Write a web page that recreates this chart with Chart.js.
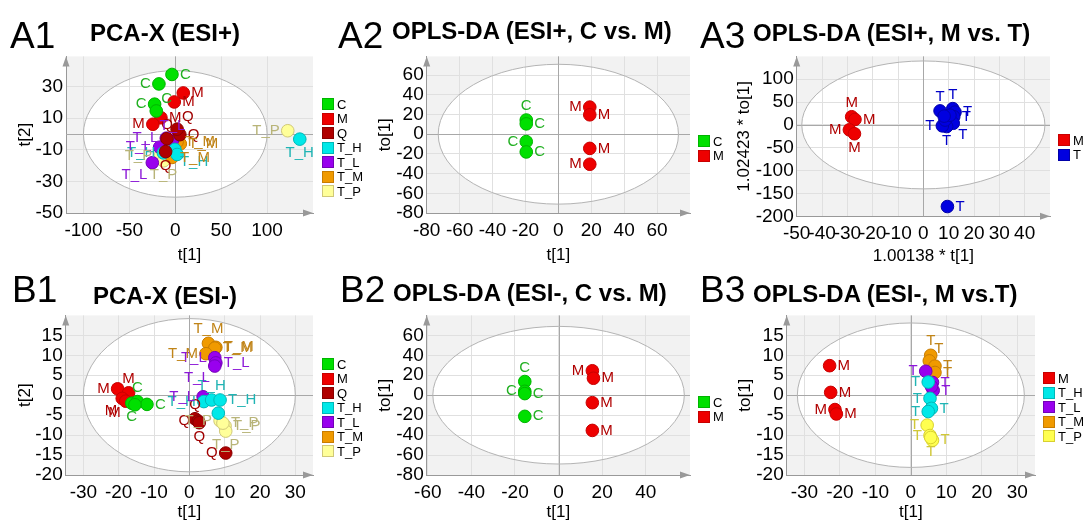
<!DOCTYPE html>
<html>
<head>
<meta charset="utf-8">
<script src="https://cdn.jsdelivr.net/npm/chart.js@4.4.0/dist/chart.umd.min.js"></script>
<style>
  body { margin: 0; width: 1083px; height: 522px; overflow: hidden; background: #fff;
         font-family: "Liberation Sans", Arial, sans-serif; position: relative; }
  canvas { position: absolute; }
  .tag { position: absolute; font-size: 37px; line-height: 1; color: #000; }
  .ttl { position: absolute; font-size: 24px; font-weight: bold; line-height: 1; white-space: nowrap; color: #000; }
  .leg { position: absolute; font-size: 13px; color: #000; }
  .leg div { height: 14.5px; display: flex; align-items: center; white-space: nowrap; }
  .leg i { display: inline-block; width: 10px; height: 10px; border: 1px solid; margin-right: 3px; }
</style>
</head>
<body>
<script>
// ---- A1  PCA-X (ESI+) ----
const a1XTicks = [-100, -50, 0, 50, 100];
const a1YTicks = [-50, -30, -10, 10, 30];
const a1C  = [[-3.6, 37.6], [-17.8, 31.6], [-22.5, 18.8], [-20.7, 14.5]];
const a1M  = [[8.7, 25.9], [-1.1, 20.2], [-15.6, 10.2], [-24.4, 6.1]];
const a1Q  = [[5, -0.5], [2, 3], [-9, -3], [-10.5, -11.2]];
const a1TH = [[135.6, -3.3], [-0.4, -9.8], [-13, -12], [2, -13]];
const a1TL = [[-9.8, -2.7], [-17, -8.4], [-25, -18.2], [-3, -4]];
const a1TM = [[5.5, -6.3], [-3.6, -14.9], [2, -5]];
const a1TP = [[122.5, 2], [-4.7, -5.7], [-16.4, -13.9], [-12.7, -17]];

// ---- A2  OPLS-DA (ESI+, C vs. M) ----
const a2XTicks = [-80, -60, -40, -20, 0, 20, 40, 60];
const a2YTicks = [-80, -60, -40, -20, 0, 20, 40, 60];
const a2C = [[-19.5, 14.4], [-19.5, 10.5], [-19.5, -7.5], [-19.5, -18]];
const a2M = [[19.1, 27.5], [19.1, 19.7], [19.1, -14.4], [19.1, -30.5]];

// ---- A3  OPLS-DA (ESI+, M vs. T) ----
const a3XTicks = [-50, -40, -30, -20, -10, 0, 10, 20, 30, 40];
const a3YTicks = [-200, -150, -100, -50, 0, 50, 100];
const a3M = [[-28.3, 17.9], [-27, 12], [-29.2, -10.7], [-27.2, -19.3]];
const a3T = [[6.6, 30.7], [11.6, 35.7], [12.5, 28], [12, 18], [11.8, 3.6], [9.2, -3.6],
             [7.5, -2], [8.6, 10.7], [10.5, 21.4], [8.2, 19.3], [9.5, -178.6]];

// ---- B1  PCA-X (ESI-) ----
const b1XTicks = [-30, -20, -10, 0, 10, 20, 30];
const b1YTicks = [-20, -15, -10, -5, 0, 5, 10, 15];
const b1C  = [[-16.3, -2], [-14.7, -1.6], [-12, -2.3], [-15.4, -2.4]];
const b1M  = [[-20.3, 1.6], [-17.2, 0.6], [-19, -0.8], [-18, -1.5]];
const b1Q  = [[1.6, -5.9], [2.5, -6.5], [2.8, -6.9], [10.3, -14.5]];
const b1TH = [[4.1, -1.6], [6.3, -1.2], [8.7, -1.2], [8.2, -4.5]];
const b1TL = [[7.2, 9.4], [7.5, 8.1], [7.2, 7.3], [3.9, -0.4]];
const b1TM = [[5.4, 13], [7.5, 12], [7.2, 11.8], [4.7, 10.4]];
const b1TP = [[8.7, -6.4], [10.1, -7.7], [10.3, -9], [9.5, -7]];

// ---- B2  OPLS-DA (ESI-, C vs. M) ----
const b2XTicks = [-60, -40, -20, 0, 20, 40];
const b2YTicks = [-80, -60, -40, -20, 0, 20, 40, 60];
const b2C = [[-15.5, 13.7], [-15.5, 3.9], [-15.5, 1.6], [-15.5, -21.2]];
const b2M = [[15.5, 24.5], [16, 17], [15.5, -7.5], [15.5, -35.3]];

// ---- B3  OPLS-DA (ESI-, M vs.T) ----
const b3XTicks = [-30, -20, -10, 0, 10, 20, 30];
const b3YTicks = [-20, -15, -10, -5, 0, 5, 10, 15];
const b3M  = [[-22.9, 7.4], [-22.6, 0.7], [-21.4, -3.6], [-21, -4.7]];
const b3TH = [[4.9, 3.3], [5.4, -0.8], [5.8, -3.3], [4.9, -4.1]];
const b3TL = [[4.2, 6], [6.1, 3.2], [6.3, 1.2], [5.8, 2.2]];
const b3TM = [[5.6, 10], [5.2, 8.6], [6.8, 7.3], [6.8, 5.7]];
const b3TP = [[4.6, -7.5], [5.4, -10.1], [6.1, -11.3], [5.6, -10.6]];

// where each point's name sits (r/l/t/b, diagonals, '' = hidden)
const a1CPos = ['r', 'l', 'l', 'tr'], a1MPos = ['r', 'r', 'r', 'l'], a1QPos = ['r', 'tr', 't', 'b'];
const a1THPos = ['b', 'br', 'l', ''], a1TLPos = ['l', 'l', 'bl', 't'], a1TMPos = ['r', 'r', 'r'];
const a1TPPos = ['l', '', 'l', 'b'];
const a2CPos = ['t', 'r', 'l', 'r'], a2MPos = ['l', 'r', 'r', 'l'];
const a3MPos = ['t', 'r', 'l', 'b'];
const a3TPos = ['t', 't', 'r', 'r', 'br', 'b', 'l', '', '', '', 'r'];
const b1CPos = ['b', 't', 'r', ''], b1MPos = ['l', 't', 'bl', 'bl'], b1QPos = ['t', 'l', 'b', 'l'];
const b1THPos = ['l', 't', 'r', ''], b1TLPos = ['l', 'r', 'bl', 'l'], b1TMPos = ['t', 'r', 'r', 'l'];
const b1TPPos = ['l', 'r', 'b', 'r'];
const b2CPos = ['t', 'l', 'r', 'r'], b2MPos = ['l', 'r', 'r', 'r'];
const b3MPos = ['r', 'r', 'l', 'r'], b3THPos = ['l', 'l', 'r', 'l'], b3TLPos = ['l', 'r', 'r', ''];
const b3TMPos = ['t', 'tr', 'r', 'r'], b3TPPos = ['l', 'l', 'r', 'b'];

const fill = { C: '#00e000', M: '#ee0000', Q: '#b00000', T_H: '#00e8e8', T_L: '#9900ee',
               T_M: '#f09a00', T_P: '#ffff99', T: '#0000e0', T_P2: '#ffff50' };
const edge = { C: '#00b400', M: '#c80000', Q: '#880000', T_H: '#00b8b8', T_L: '#7400b8',
               T_M: '#c87c00', T_P: '#d0c878', T: '#0000a8', T_P2: '#d8d030' };
const ink  = { C: '#22b022', M: '#b00000', Q: '#a00000', T_H: '#20b4b4', T_L: '#8c18d8',
               T_M: '#c08418', T_P: '#b8b478', T: '#0000c8', T_P2: '#d0c838' };

function s(name, pts, pos, mark, key) {
  return { name, pts, pos, mark: mark || name, key: key || name };
}

const panels = [
  { tag: 'A1', tagAt: [10, 17], title: 'PCA-X (ESI+)', titleAt: [90, 21],
    x0: 0, area: [66, 52, 313, 213], xr: [-119, 150], yr: [-50, 49], xt: a1XTicks, yt: a1YTicks,
    ell: [100, 40], xTitle: 't[1]', yTitle: 't[2]', xTitleY: 255.5, yTitleX: 25.5, leg: [322, 104],
    series: [s('C', a1C, a1CPos), s('M', a1M, a1MPos), s('Q', a1Q, a1QPos), s('T_H', a1TH, a1THPos),
             s('T_L', a1TL, a1TLPos), s('T_M', a1TM, a1TMPos), s('T_P', a1TP, a1TPPos)] },
  { tag: 'A2', tagAt: [338, 17], title: 'OPLS-DA (ESI+, C vs. M)', titleAt: [392, 19],
    x0: 360, area: [426.7, 52, 690, 213], xr: [-80, 80], yr: [-80, 79], xt: a2XTicks, yt: a2YTicks,
    ell: [73, 71], xTitle: 't[1]', yTitle: 'to[1]', xTitleY: 255.5, yTitleX: 385.5, leg: [698, 141],
    series: [s('C', a2C, a2CPos), s('M', a2M, a2MPos)] },
  { tag: 'A3', tagAt: [700, 17], title: 'OPLS-DA (ESI+, M vs. T)', titleAt: [753, 21],
    x0: 720, area: [796.7, 52, 1050, 216.3], xr: [-50, 50], yr: [-200, 150], xt: a3XTicks, yt: a3YTicks,
    ell: [48, 140], xTitle: '1.00138 * t[1]', yTitle: '1.02423 * to[1]', xTitleY: 257, yTitleX: 744.5,
    leg: [1058, 140],
    series: [s('M', a3M, a3MPos), s('T', a3T, a3TPos)] },
  { tag: 'B1', tagAt: [12, 271], title: 'PCA-X (ESI-)', titleAt: [93, 284],
    x0: 0, area: [65.7, 311.7, 313, 475], xr: [-35, 35], yr: [-20, 20], xt: b1XTicks, yt: b1YTicks,
    ell: [30, 19.2], xTitle: 't[1]', yTitle: 't[2]', xTitleY: 512.5, yTitleX: 25.5, leg: [322, 364],
    series: [s('C', b1C, b1CPos), s('M', b1M, b1MPos), s('Q', b1Q, b1QPos), s('T_H', b1TH, b1THPos),
             s('T_L', b1TL, b1TLPos), s('T_M', b1TM, b1TMPos), s('T_P', b1TP, b1TPPos)] },
  { tag: 'B2', tagAt: [340, 271], title: 'OPLS-DA (ESI-, C vs. M)', titleAt: [393, 281],
    x0: 360, area: [426.7, 311.7, 690, 475], xr: [-60.5, 60.3], yr: [-80, 80], xt: b2XTicks, yt: b2YTicks,
    ell: [57.7, 69], xTitle: 't[1]', yTitle: 'to[1]', xTitleY: 512.5, yTitleX: 385.5, leg: [698, 402],
    series: [s('C', b2C, b2CPos), s('M', b2M, b2MPos)] },
  { tag: 'B3', tagAt: [700, 271], title: 'OPLS-DA (ESI-, M vs.T)', titleAt: [753, 282],
    x0: 720, area: [786.7, 311.7, 1035, 475], xr: [-35, 35], yr: [-20, 20], xt: b3XTicks, yt: b3YTicks,
    ell: [32, 18.1], xTitle: 't[1]', yTitle: 'to[1]', xTitleY: 512.5, yTitleX: 745.5, leg: [1043, 378],
    series: [s('M', b3M, b3MPos), s('T_H', b3TH, b3THPos, 'T'), s('T_L', b3TL, b3TLPos, 'T'),
             s('T_M', b3TM, b3TMPos, 'T'), s('T_P', b3TP, b3TPPos, 'T', 'T_P2')] }
];

// ellipse, grey background, zero lines, axis arrows and point names
const scorePlot = {
  id: 'scorePlot',
  beforeDraw(chart, args, o) {
    const { ctx, chartArea: a, scales: { x, y } } = chart;
    const x0 = x.getPixelForValue(0), y0 = y.getPixelForValue(0);
    ctx.save();
    ctx.fillStyle = '#f2f2f2';
    ctx.fillRect(a.left, a.top, a.right - a.left, a.bottom - a.top);
    ctx.beginPath();
    ctx.ellipse(x0, y0, x.getPixelForValue(o.ell[0]) - x0, y0 - y.getPixelForValue(o.ell[1]), 0, 0, 2 * Math.PI);
    ctx.fillStyle = '#fff';
    ctx.fill();
    ctx.restore();
  },
  beforeDatasetsDraw(chart, args, o) {
    const { ctx, chartArea: a, scales: { x, y } } = chart;
    const x0 = x.getPixelForValue(0), y0 = y.getPixelForValue(0);
    ctx.save();
    ctx.strokeStyle = '#a8a8a8';
    ctx.lineWidth = 1;
    ctx.beginPath();
    ctx.moveTo(Math.round(x0) + 0.5, a.top); ctx.lineTo(Math.round(x0) + 0.5, a.bottom);
    ctx.moveTo(a.left, Math.round(y0) + 0.5); ctx.lineTo(a.right, Math.round(y0) + 0.5);
    ctx.stroke();
    ctx.strokeStyle = '#b4b4b4';
    ctx.beginPath();
    ctx.ellipse(x0, y0, x.getPixelForValue(o.ell[0]) - x0, y0 - y.getPixelForValue(o.ell[1]), 0, 0, 2 * Math.PI);
    ctx.stroke();
    ctx.fillStyle = '#999';
    ctx.beginPath();
    ctx.moveTo(a.left, a.top); ctx.lineTo(a.left - 3.5, a.top + 10); ctx.lineTo(a.left + 3.5, a.top + 10);
    ctx.closePath();
    ctx.moveTo(a.right, a.bottom); ctx.lineTo(a.right - 10, a.bottom - 3.5); ctx.lineTo(a.right - 10, a.bottom + 3.5);
    ctx.closePath();
    ctx.fill();
    ctx.restore();
  },
  afterDatasetsDraw(chart) {
    const ctx = chart.ctx;
    ctx.save();
    ctx.font = '15px "Liberation Sans", Arial, sans-serif';
    ctx.textBaseline = 'middle';
    chart.data.datasets.forEach((ds, i) => {
      ctx.fillStyle = ds.ink;
      chart.getDatasetMeta(i).data.forEach((el, j) => {
        const p = ds.pos[j];
        if (!p) return;
        let tx = el.x, ty = el.y, al = 'center';
        if (p.includes('r')) { tx += p.length > 1 ? 5 : 8; al = 'left'; }
        if (p.includes('l')) { tx -= p.length > 1 ? 5 : 8; al = 'right'; }
        if (p.includes('t')) ty -= p.length > 1 ? 12 : 14;
        if (p.includes('b')) ty += p.length > 1 ? 12 : 14;
        ctx.textAlign = al;
        ctx.fillText(ds.mark, tx, ty);
      });
    });
    ctx.restore();
  }
};

Chart.defaults.font.family = '"Liberation Sans", Arial, sans-serif';
Chart.defaults.color = '#000';

function addText(cls, text, at) {
  const d = document.createElement('div');
  d.className = cls;
  d.textContent = text;
  d.style.left = at[0] + 'px';
  d.style.top = at[1] + 'px';
  document.body.appendChild(d);
}

function makePanel(p) {
  const [L, T, R, B] = p.area;
  const cy = Math.floor(T) - 10;
  const cw = Math.round(R + 12 - p.x0);
  const ch = Math.round(p.xTitleY + 10.2 - cy);
  const cv = document.createElement('canvas');
  cv.width = cw; cv.height = ch;
  cv.style.left = p.x0 + 'px';
  cv.style.top = cy + 'px';
  document.body.appendChild(cv);

  new Chart(cv.getContext('2d'), {
    type: 'scatter',
    data: {
      datasets: p.series.map(sr => ({
        label: sr.name,
        data: sr.pts.map(([x, y]) => ({ x, y })),
        pos: sr.pos, mark: sr.mark, ink: ink[sr.key],
        backgroundColor: fill[sr.key],
        borderColor: edge[sr.key],
        borderWidth: 1,
        pointRadius: 6.3,
        pointHoverRadius: 6.3
      }))
    },
    options: {
      responsive: false,
      animation: false,
      events: [],
      layout: { autoPadding: false, padding: { top: T - cy, right: cw - (R - p.x0), left: 0, bottom: 0 } },
      plugins: { legend: { display: false }, tooltip: { enabled: false }, scorePlot: { ell: p.ell } },
      scales: {
        x: {
          type: 'linear', min: p.xr[0], max: p.xr[1],
          afterBuildTicks: sc => { sc.ticks = p.xt.map(v => ({ value: v })); },
          afterFit: sc => { sc.height = ch - (B - cy); },
          ticks: { autoSkip: false, maxRotation: 0, padding: 6, font: { size: 19 }, color: '#000' },
          grid: { color: '#e0e0e0', drawTicks: false },
          border: { color: '#999' },
          title: { display: true, text: p.xTitle, font: { size: 17 }, color: '#000', padding: { top: 0, bottom: 0 } }
        },
        y: {
          type: 'linear', min: p.yr[0], max: p.yr[1],
          afterBuildTicks: sc => { sc.ticks = p.yt.map(v => ({ value: v })); },
          afterFit: sc => { sc.width = L - p.x0; },
          ticks: { autoSkip: false, padding: 3, font: { size: 19 }, color: '#000' },
          grid: { color: '#e0e0e0', drawTicks: false },
          border: { color: '#999' },
          title: { display: true, text: p.yTitle, font: { size: 17 }, color: '#000',
                   padding: { top: p.yTitleX - p.x0 - 10.2, bottom: 0 } }
        }
      }
    },
    plugins: [scorePlot]
  });

  addText('tag', p.tag, p.tagAt);
  addText('ttl', p.title, p.titleAt);

  const leg = document.createElement('div');
  leg.className = 'leg';
  leg.style.left = p.leg[0] + 'px';
  leg.style.top = (p.leg[1] - 7.25) + 'px';
  p.series.forEach(sr => {
    const row = document.createElement('div');
    const sq = document.createElement('i');
    sq.style.background = fill[sr.key];
    sq.style.borderColor = edge[sr.key];
    row.appendChild(sq);
    row.appendChild(document.createTextNode(sr.name));
    leg.appendChild(row);
  });
  document.body.appendChild(leg);
}

panels.forEach(makePanel);
</script>
</body>
</html>
